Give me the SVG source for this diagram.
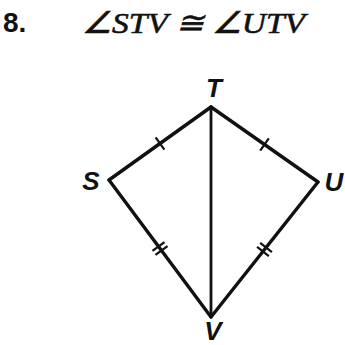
<svg xmlns="http://www.w3.org/2000/svg" width="345" height="345" viewBox="0 0 345 345">
<style>
.edge{stroke:#111;stroke-width:3.4;stroke-linecap:round;fill:none}
.tick{stroke:#111;stroke-width:2.2;fill:none}
.lbl{font-family:"Liberation Sans",Arial,sans-serif;font-weight:bold;font-style:italic;font-size:26px;fill:#111}
</style>
<rect width="345" height="345" fill="#fff"/>
<text x="3" y="32" font-family="Liberation Sans,Arial,sans-serif" font-weight="bold" font-size="28" fill="#111">8.</text>
<text x="82" y="33" font-family="Liberation Serif,Times New Roman,serif" font-style="italic" font-size="30" fill="#111" stroke="#111" stroke-width="0.6" textLength="223" lengthAdjust="spacingAndGlyphs">∠STV ≅ ∠UTV</text>
<g id="connectors">
<line class="edge" x1="109" y1="180" x2="211" y2="107"/>
<line class="edge" x1="211" y1="107" x2="318" y2="182"/>
<line class="edge" x1="109" y1="180" x2="211" y2="317"/>
<line class="edge" x1="318" y1="182" x2="211" y2="317"/>
<line class="edge" x1="211" y1="107" x2="211" y2="317" style="stroke-width:2.8"/>
<g transform="translate(160,143.5) rotate(-35.6)"><line class="tick" x1="0" y1="-7.5" x2="0" y2="7.5"/></g>
<g transform="translate(264.5,144.5) rotate(35)"><line class="tick" x1="0" y1="-7.5" x2="0" y2="7.5"/></g>
<g transform="translate(160,248.5) rotate(53.3)"><line class="tick" x1="-2.5" y1="-7.5" x2="-2.5" y2="7.5"/><line class="tick" x1="2.5" y1="-7.5" x2="2.5" y2="7.5"/></g>
<g transform="translate(264.5,249.5) rotate(-51.6)"><line class="tick" x1="-2.5" y1="-7.5" x2="-2.5" y2="7.5"/><line class="tick" x1="2.5" y1="-7.5" x2="2.5" y2="7.5"/></g>
</g>
<g id="T"><text class="lbl" x="214" y="97" text-anchor="middle">T</text></g>
<g id="S"><text class="lbl" x="91" y="190" text-anchor="middle">S</text></g>
<g id="U"><text class="lbl" x="334" y="191" text-anchor="middle">U</text></g>
<g id="V"><text class="lbl" x="213" y="340" text-anchor="middle">V</text></g>
</svg>
